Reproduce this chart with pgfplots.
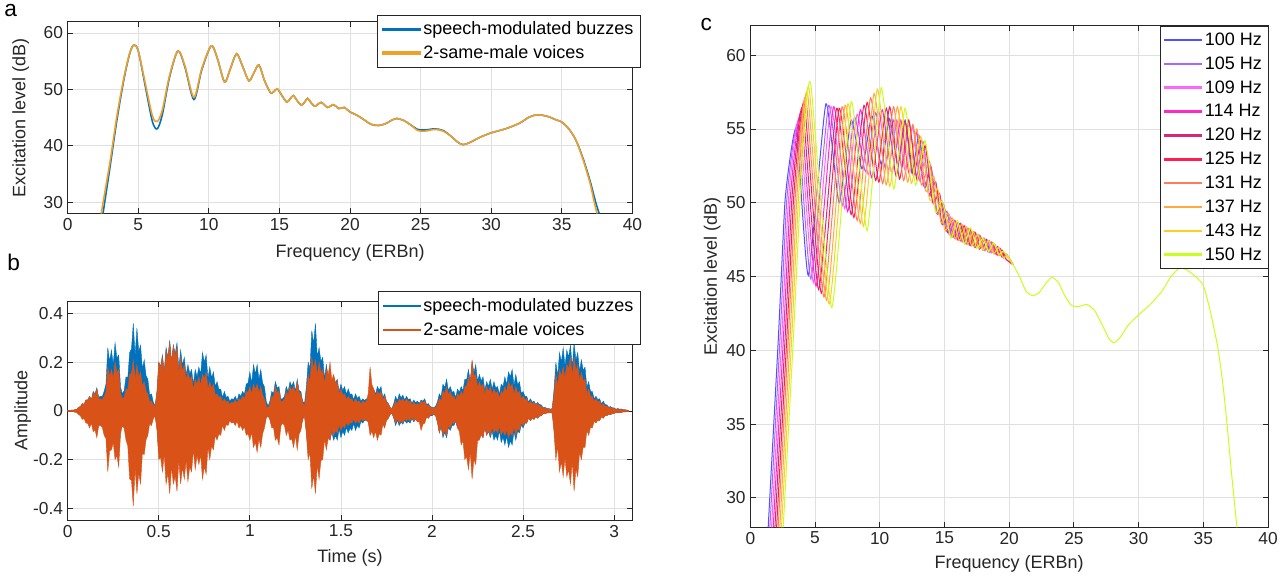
\documentclass[border=0pt]{standalone}
\usepackage{fontspec}
\setmainfont{Liberation Sans}
\usepackage{pgfplots}
\usepackage{pgfplotstable}
\pgfplotsset{compat=1.18}
\usepgfplotslibrary{fillbetween}

\definecolor{axc}{RGB}{38,38,38}
\definecolor{gridc}{RGB}{224,224,224}
\definecolor{mblue}{RGB}{0,114,189}
\definecolor{myel}{RGB}{240,160,40}
\definecolor{morange}{RGB}{217,83,25}
\definecolor{fqa}{RGB}{80,80,255}
\definecolor{fqb}{RGB}{170,100,255}
\definecolor{fqc}{RGB}{255,100,255}
\definecolor{fqd}{RGB}{255,40,200}
\definecolor{fqe}{RGB}{215,40,120}
\definecolor{fqf}{RGB}{255,30,80}
\definecolor{fqg}{RGB}{255,125,90}
\definecolor{fqh}{RGB}{255,170,60}
\definecolor{fqi}{RGB}{255,205,40}
\definecolor{fqj}{RGB}{200,255,30}

\pgfplotsset{
  mstyle/.style={
    scale only axis,
    axis line style={draw=axc, line width=0.6pt},
    tick style={draw=axc, line width=0.6pt},
    major tick length=4pt,
    tick align=inside,
    grid=major,
    major grid style={draw=gridc, line width=0.6pt},
    ticklabel style={font=\fontsize{13}{15}\selectfont, text=axc},
    label style={font=\fontsize{13.5}{16}\selectfont, text=axc},
    /pgf/number format/assume math mode=true,
    legend cell align=left,
    legend style={font=\fontsize{13.5}{16}\selectfont, draw=axc, line width=0.6pt,
      fill=white, inner xsep=3pt, inner ysep=3pt, row sep=2.5pt},
    legend image code/.code={\fill[#1] (0pt,-0.6pt) rectangle (28pt,0.6pt);},
  }
}

% panel b envelopes: time, buzz upper, voices upper, voices lower, buzz lower
\pgfplotstableread{
t bu ou ol bl
0.00 0.003 0.003 -0.003 -0.003
0.01 0.002 0.002 -0.002 -0.002
0.02 0.003 0.003 -0.003 -0.003
0.03 0.003 0.003 -0.003 -0.003
0.04 0.005 0.005 -0.005 -0.005
0.05 0.0065 0.0065 -0.0065 -0.0055
0.06 0.015 0.015 -0.015 -0.012
0.07 0.018 0.018 -0.02 -0.017
0.08 0.03 0.03 -0.035 -0.03
0.09 0.027 0.027 -0.031 -0.025
0.10 0.045 0.045 -0.05 -0.04
0.11 0.045 0.045 -0.051 -0.043
0.12 0.06 0.06 -0.07 -0.06
0.13 0.046 0.044 -0.05 -0.042
0.14 0.08 0.075 -0.085 -0.07
0.15 0.07 0.066 -0.078 -0.064
0.16 0.095 0.09 -0.11 -0.09
0.17 0.056 0.05 -0.061 -0.05
0.18 0.06 0.05 -0.06 -0.05
0.19 0.06 0.047 -0.068 -0.051
0.20 0.08 0.06 -0.10 -0.07
0.21 0.11 0.078 -0.114 -0.088
0.22 0.26 0.18 -0.25 -0.20
0.23 0.204 0.14 -0.164 -0.132
0.24 0.25 0.17 -0.16 -0.13
0.25 0.191 0.133 -0.13 -0.104
0.26 0.28 0.20 -0.20 -0.16
0.27 0.217 0.157 -0.183 -0.145
0.28 0.23 0.17 -0.23 -0.18
0.29 0.098 0.072 -0.094 -0.075
0.30 0.07 0.05 -0.06 -0.05
0.31 0.084 0.056 -0.072 -0.06
0.32 0.14 0.09 -0.12 -0.10
0.33 0.137 0.086 -0.144 -0.108
0.34 0.24 0.15 -0.28 -0.20
0.35 0.255 0.153 -0.285 -0.204
0.36 0.36 0.21 -0.39 -0.28
0.37 0.228 0.13 -0.237 -0.172
0.38 0.34 0.19 -0.34 -0.25
0.39 0.244 0.14 -0.256 -0.188
0.40 0.27 0.16 -0.30 -0.22
0.41 0.173 0.101 -0.173 -0.13
0.42 0.21 0.12 -0.18 -0.14
0.43 0.145 0.081 -0.119 -0.094
0.44 0.13 0.07 -0.10 -0.08
0.45 0.065 0.036 -0.052 -0.042
0.46 0.07 0.04 -0.06 -0.05
0.47 0.036 0.024 -0.032 -0.028
0.48 0.02 0.02 -0.02 -0.02
0.49 0.079 0.079 -0.079 -0.068
0.50 0.20 0.20 -0.20 -0.17
0.51 0.183 0.179 -0.191 -0.157
0.52 0.23 0.22 -0.25 -0.20
0.53 0.159 0.153 -0.179 -0.143
0.54 0.26 0.25 -0.30 -0.24
0.55 0.22 0.212 -0.256 -0.20
0.56 0.29 0.28 -0.34 -0.26
0.57 0.202 0.198 -0.23 -0.18
0.58 0.27 0.27 -0.30 -0.24
0.59 0.234 0.225 -0.268 -0.208
0.60 0.28 0.26 -0.33 -0.25
0.61 0.172 0.156 -0.205 -0.156
0.62 0.25 0.22 -0.30 -0.23
0.63 0.188 0.164 -0.232 -0.176
0.64 0.22 0.19 -0.28 -0.21
0.65 0.148 0.126 -0.205 -0.155
0.66 0.19 0.16 -0.29 -0.22
0.67 0.153 0.128 -0.23 -0.179
0.68 0.17 0.14 -0.25 -0.20
0.69 0.111 0.088 -0.159 -0.127
0.70 0.17 0.13 -0.24 -0.19
0.71 0.14 0.108 -0.184 -0.148
0.72 0.18 0.14 -0.22 -0.18
0.73 0.151 0.104 -0.18 -0.14
0.74 0.24 0.15 -0.28 -0.21
0.75 0.20 0.132 -0.23 -0.174
0.76 0.23 0.16 -0.26 -0.20
0.77 0.133 0.091 -0.15 -0.117
0.78 0.18 0.12 -0.20 -0.16
0.79 0.136 0.092 -0.144 -0.116
0.80 0.16 0.11 -0.16 -0.13
0.81 0.101 0.065 -0.101 -0.083
0.82 0.12 0.07 -0.12 -0.10
0.83 0.089 0.055 -0.094 -0.077
0.84 0.09 0.06 -0.10 -0.08
0.85 0.055 0.036 -0.059 -0.049
0.86 0.08 0.05 -0.08 -0.07
0.87 0.056 0.036 -0.056 -0.048
0.88 0.06 0.04 -0.06 -0.05
0.89 0.04 0.027 -0.04 -0.032
0.90 0.05 0.035 -0.05 -0.04
0.91 0.047 0.034 -0.047 -0.038
0.92 0.06 0.045 -0.06 -0.05
0.93 0.042 0.031 -0.042 -0.036
0.94 0.07 0.05 -0.07 -0.06
0.95 0.06 0.044 -0.06 -0.052
0.96 0.08 0.06 -0.08 -0.07
0.97 0.068 0.05 -0.065 -0.054
0.98 0.11 0.08 -0.10 -0.08
0.99 0.115 0.077 -0.094 -0.077
1.00 0.16 0.10 -0.12 -0.10
1.01 0.114 0.068 -0.088 -0.072
1.02 0.19 0.11 -0.15 -0.12
1.03 0.152 0.088 -0.128 -0.10
1.04 0.19 0.11 -0.17 -0.13
1.05 0.13 0.076 -0.115 -0.09
1.06 0.17 0.10 -0.15 -0.12
1.07 0.115 0.064 -0.094 -0.077
1.08 0.10 0.05 -0.07 -0.06
1.09 0.039 0.02 -0.029 -0.026
1.10 0.02 0.01 -0.02 -0.02
1.11 0.04 0.028 -0.036 -0.032
1.12 0.08 0.06 -0.07 -0.06
1.13 0.072 0.058 -0.068 -0.058
1.14 0.12 0.10 -0.12 -0.10
1.15 0.094 0.077 -0.11 -0.089
1.16 0.10 0.08 -0.14 -0.11
1.17 0.049 0.039 -0.062 -0.049
1.18 0.05 0.04 -0.05 -0.04
1.19 0.06 0.048 -0.06 -0.048
1.20 0.10 0.08 -0.10 -0.08
1.21 0.079 0.065 -0.079 -0.065
1.22 0.12 0.10 -0.12 -0.10
1.23 0.102 0.085 -0.115 -0.094
1.24 0.12 0.10 -0.15 -0.12
1.25 0.081 0.072 -0.101 -0.081
1.26 0.13 0.12 -0.16 -0.13
1.27 0.084 0.076 -0.096 -0.08
1.28 0.08 0.07 -0.08 -0.07
1.29 0.04 0.032 -0.036 -0.032
1.30 0.03 0.02 -0.02 -0.02
1.31 0.098 0.072 -0.094 -0.081
1.32 0.20 0.15 -0.20 -0.17
1.33 0.172 0.12 -0.169 -0.14
1.34 0.33 0.22 -0.32 -0.26
1.35 0.276 0.172 -0.264 -0.212
1.36 0.36 0.21 -0.34 -0.27
1.37 0.223 0.148 -0.223 -0.176
1.38 0.26 0.20 -0.28 -0.22
1.39 0.204 0.157 -0.204 -0.162
1.40 0.22 0.17 -0.20 -0.16
1.41 0.133 0.11 -0.117 -0.094
1.42 0.19 0.17 -0.16 -0.13
1.43 0.14 0.148 -0.112 -0.10
1.44 0.16 0.20 -0.12 -0.12
1.45 0.108 0.126 -0.079 -0.086
1.46 0.14 0.15 -0.10 -0.12
1.47 0.115 0.115 -0.081 -0.102
1.48 0.13 0.12 -0.09 -0.12
1.49 0.078 0.068 -0.055 -0.075
1.50 0.11 0.09 -0.08 -0.11
1.51 0.084 0.064 -0.06 -0.084
1.52 0.10 0.07 -0.07 -0.10
1.53 0.068 0.047 -0.047 -0.068
1.54 0.09 0.06 -0.06 -0.09
1.55 0.068 0.047 -0.047 -0.072
1.56 0.07 0.05 -0.05 -0.08
1.57 0.046 0.033 -0.033 -0.052
1.58 0.07 0.05 -0.05 -0.08
1.59 0.052 0.036 -0.04 -0.06
1.60 0.06 0.04 -0.05 -0.07
1.61 0.04 0.029 -0.032 -0.043
1.62 0.05 0.04 -0.04 -0.05
1.63 0.043 0.034 -0.034 -0.038
1.64 0.05 0.04 -0.04 -0.04
1.65 0.039 0.072 -0.046 -0.039
1.66 0.07 0.18 -0.10 -0.08
1.67 0.064 0.108 -0.084 -0.068
1.68 0.09 0.09 -0.11 -0.09
1.69 0.068 0.061 -0.083 -0.068
1.70 0.10 0.08 -0.12 -0.10
1.71 0.085 0.068 -0.094 -0.077
1.72 0.10 0.08 -0.10 -0.08
1.73 0.055 0.046 -0.055 -0.046
1.74 0.07 0.06 -0.07 -0.06
1.75 0.04 0.036 -0.04 -0.036
1.76 0.03 0.03 -0.03 -0.03
1.77 0.014 0.014 -0.014 -0.014
1.78 0.01 0.01 -0.01 -0.01
1.79 0.03 0.021 -0.026 -0.03
1.80 0.06 0.04 -0.05 -0.06
1.81 0.042 0.029 -0.033 -0.039
1.82 0.07 0.05 -0.05 -0.06
1.83 0.054 0.04 -0.04 -0.046
1.84 0.065 0.05 -0.05 -0.055
1.85 0.045 0.036 -0.032 -0.038
1.86 0.06 0.05 -0.04 -0.05
1.87 0.047 0.038 -0.034 -0.043
1.88 0.05 0.04 -0.04 -0.05
1.89 0.031 0.024 -0.026 -0.031
1.90 0.045 0.035 -0.04 -0.045
1.91 0.034 0.026 -0.034 -0.034
1.92 0.04 0.03 -0.045 -0.04
1.93 0.031 0.025 -0.045 -0.031
1.94 0.045 0.04 -0.08 -0.045
1.95 0.04 0.034 -0.055 -0.036
1.96 0.05 0.04 -0.05 -0.04
1.97 0.026 0.021 -0.026 -0.023
1.98 0.03 0.025 -0.03 -0.03
1.99 0.018 0.015 -0.018 -0.02
2.00 0.015 0.012 -0.015 -0.02
2.01 0.013 0.01 -0.013 -0.014
2.02 0.02 0.015 -0.02 -0.02
2.03 0.038 0.028 -0.047 -0.047
2.04 0.07 0.05 -0.09 -0.09
2.05 0.059 0.042 -0.062 -0.065
2.06 0.11 0.08 -0.10 -0.11
2.07 0.096 0.072 -0.08 -0.088
2.08 0.13 0.10 -0.10 -0.11
2.09 0.083 0.065 -0.061 -0.068
2.10 0.10 0.08 -0.07 -0.08
2.11 0.077 0.06 -0.051 -0.06
2.12 0.08 0.06 -0.05 -0.06
2.13 0.055 0.042 -0.039 -0.042
2.14 0.09 0.07 -0.07 -0.07
2.15 0.076 0.06 -0.084 -0.068
2.16 0.10 0.08 -0.14 -0.10
2.17 0.083 0.065 -0.122 -0.086
2.18 0.13 0.10 -0.20 -0.14
2.19 0.128 0.102 -0.187 -0.132
2.20 0.17 0.14 -0.24 -0.17
2.21 0.12 0.114 -0.169 -0.117
2.22 0.20 0.21 -0.28 -0.19
2.23 0.156 0.144 -0.20 -0.14
2.24 0.19 0.15 -0.22 -0.16
2.25 0.122 0.097 -0.122 -0.097
2.26 0.15 0.12 -0.12 -0.11
2.27 0.123 0.098 -0.098 -0.094
2.28 0.14 0.11 -0.11 -0.11
2.29 0.085 0.068 -0.068 -0.068
2.30 0.12 0.10 -0.10 -0.10
2.31 0.10 0.08 -0.08 -0.084
2.32 0.13 0.10 -0.10 -0.11
2.33 0.09 0.068 -0.068 -0.083
2.34 0.12 0.09 -0.09 -0.12
2.35 0.094 0.072 -0.077 -0.102
2.36 0.10 0.08 -0.09 -0.12
2.37 0.068 0.052 -0.062 -0.081
2.38 0.11 0.08 -0.10 -0.13
2.39 0.10 0.072 -0.08 -0.108
2.40 0.14 0.10 -0.10 -0.14
2.41 0.108 0.079 -0.076 -0.104
2.42 0.16 0.12 -0.11 -0.15
2.43 0.14 0.098 -0.089 -0.123
2.44 0.17 0.11 -0.10 -0.14
2.45 0.104 0.068 -0.065 -0.085
2.46 0.15 0.10 -0.10 -0.12
2.47 0.108 0.072 -0.072 -0.084
2.48 0.12 0.08 -0.08 -0.09
2.49 0.072 0.05 -0.05 -0.058
2.50 0.08 0.06 -0.06 -0.07
2.51 0.06 0.047 -0.047 -0.051
2.52 0.06 0.05 -0.05 -0.05
2.53 0.036 0.029 -0.029 -0.029
2.54 0.05 0.04 -0.04 -0.04
2.55 0.036 0.03 -0.03 -0.03
2.56 0.04 0.035 -0.035 -0.035
2.57 0.027 0.023 -0.023 -0.023
2.58 0.035 0.03 -0.03 -0.03
2.59 0.026 0.021 -0.021 -0.021
2.60 0.025 0.02 -0.02 -0.02
2.61 0.013 0.01 -0.01 -0.01
2.62 0.015 0.012 -0.012 -0.012
2.63 0.01 0.008 -0.008 -0.008
2.64 0.01 0.008 -0.008 -0.008
2.65 0.007 0.006 -0.006 -0.006
2.66 0.01 0.01 -0.01 -0.01
2.67 0.089 0.068 -0.089 -0.072
2.68 0.20 0.15 -0.20 -0.16
2.69 0.143 0.104 -0.146 -0.117
2.70 0.24 0.17 -0.25 -0.20
2.71 0.20 0.14 -0.208 -0.164
2.72 0.26 0.18 -0.27 -0.21
2.73 0.184 0.133 -0.194 -0.151
2.74 0.25 0.19 -0.27 -0.21
2.75 0.221 0.174 -0.242 -0.187
2.76 0.27 0.22 -0.30 -0.23
2.77 0.179 0.143 -0.205 -0.156
2.78 0.28 0.22 -0.33 -0.25
2.79 0.208 0.164 -0.24 -0.184
2.80 0.24 0.19 -0.27 -0.21
2.81 0.162 0.126 -0.169 -0.133
2.82 0.21 0.16 -0.20 -0.16
2.83 0.166 0.123 -0.149 -0.119
2.84 0.18 0.13 -0.15 -0.12
2.85 0.098 0.072 -0.081 -0.065
2.86 0.12 0.09 -0.10 -0.08
2.87 0.08 0.06 -0.068 -0.056
2.88 0.08 0.06 -0.07 -0.06
2.89 0.05 0.04 -0.043 -0.038
2.90 0.06 0.05 -0.05 -0.045
2.91 0.047 0.038 -0.038 -0.036
2.92 0.05 0.04 -0.04 -0.04
2.93 0.029 0.023 -0.023 -0.023
2.94 0.04 0.03 -0.03 -0.03
2.95 0.026 0.02 -0.02 -0.02
2.96 0.025 0.02 -0.02 -0.02
2.97 0.015 0.013 -0.013 -0.013
2.98 0.018 0.015 -0.015 -0.015
2.99 0.013 0.011 -0.011 -0.011
3.00 0.012 0.01 -0.01 -0.01
3.01 0.007 0.006 -0.006 -0.006
3.02 0.01 0.008 -0.008 -0.008
3.03 0.007 0.006 -0.006 -0.006
3.04 0.008 0.006 -0.006 -0.006
3.05 0.005 0.004 -0.004 -0.004
3.06 0.005 0.004 -0.004 -0.004
3.07 0.003 0.003 -0.003 -0.003
3.08 0.002 0.002 -0.002 -0.002
}\wave

\begin{document}
\begin{tikzpicture}
\path (0,0) rectangle (962.25pt,431.25pt);

% ---------- panel a ----------
\begin{axis}[mstyle, at={(50.25pt,271.5pt)}, anchor=south west,
  width=423.75pt, height=144pt,
  xmin=0, xmax=40, ymin=28, ymax=62,
  xtick={0,5,...,40}, ytick={30,40,50,60},
  xlabel={Frequency (ERBn)}, ylabel={Excitation level (dB)},
  xlabel style={at={(axis description cs:0.5,-0.203)}, anchor=center},
  ylabel style={at={(axis description cs:-0.083,0.5)}, anchor=center},
  legend style={at={(1.0142,1.036)}, anchor=north east}]
\addplot[mblue, line width=1.2pt, smooth] coordinates {
(2.5,28) (3.0,36.3) (3.5,44.8) (4.0,52.0) (4.4,56.4) (4.68,57.86) (5.0,56.8) (5.5,50.5)
(6.0,44.3) (6.34,43.0) (6.7,45.5) (7.2,52) (7.8,56.8) (8.3,54) (8.94,48.2) (9.5,53.5)
(10.17,57.7) (10.6,55.5) (11.11,51.3) (11.5,53.5) (11.96,56.3) (12.4,54) (12.84,51.5)
(13.2,53) (13.55,54.3) (13.95,51.5) (14.37,49.4) (14.6,49.6) (14.85,50.1) (15.15,49)
(15.51,47.75) (15.75,48.3) (15.98,48.9) (16.25,48) (16.55,47.2) (16.8,47.8) (17.0,48.4)
(17.25,47.6) (17.5,47.0) (17.7,47.3) (17.95,47.7) (18.2,47.2) (18.4,46.8) (18.6,47.0)
(18.8,47.3) (19.0,47.0) (19.2,46.6) (19.4,46.7) (19.6,46.8) (20.0,46.0) (20.5,45.4)
(21.0,44.6) (21.5,43.8) (22.0,43.6) (22.5,43.9) (23.0,44.6) (23.3,44.85) (23.8,44.5)
(24.3,43.7) (24.8,42.9) (25.3,42.8) (26.0,43.0) (26.6,42.7) (27.2,41.6) (27.6,40.7)
(28.0,40.2) (28.5,40.6) (29.2,41.5) (30.0,42.3) (31.0,43.0) (32.0,44.0) (32.7,45.1)
(33.3,45.5) (34.0,45.2) (34.6,44.6) (35.0,44.2) (35.5,43.0) (36.0,41.0) (36.5,37.8)
(37.0,33.8) (37.4,30.0) (37.65,28)};
\addplot[myel, line width=1.2pt, smooth] coordinates {
(2.37,28) (3.0,37.2) (3.5,45.5) (4.0,52.3) (4.4,56.5) (4.68,57.86) (5.0,56.8) (5.5,51.0)
(6.0,45.3) (6.34,44.3) (6.7,46.3) (7.2,52.3) (7.8,56.8) (8.3,54.2) (8.94,48.6) (9.5,53.7)
(10.17,57.7) (10.6,55.5) (11.11,51.3) (11.5,53.5) (11.96,56.3) (12.4,54) (12.84,51.5)
(13.2,53) (13.55,54.3) (13.95,51.5) (14.37,49.4) (14.6,49.6) (14.85,50.1) (15.15,49)
(15.51,47.75) (15.75,48.3) (15.98,48.9) (16.25,48) (16.55,47.2) (16.8,47.8) (17.0,48.4)
(17.25,47.6) (17.5,47.0) (17.7,47.3) (17.95,47.7) (18.2,47.2) (18.4,46.8) (18.6,47.0)
(18.8,47.3) (19.0,47.0) (19.2,46.6) (19.4,46.7) (19.6,46.8) (20.0,46.0) (20.5,45.4)
(21.0,44.6) (21.5,43.8) (22.0,43.6) (22.5,43.9) (23.0,44.6) (23.3,44.85) (23.8,44.5)
(24.3,43.7) (24.8,42.7) (25.3,42.6) (26.0,42.9) (26.6,42.6) (27.2,41.6) (27.6,40.7)
(28.0,40.2) (28.5,40.6) (29.2,41.5) (30.0,42.3) (31.0,43.0) (32.0,44.0) (32.7,45.1)
(33.3,45.5) (34.0,45.2) (34.6,44.6) (35.0,44.2) (35.5,43.0) (36.0,41.0) (36.5,37.6)
(37.0,33.4) (37.3,30.0) (37.5,28)};
\legend{speech-modulated buzzes, 2-same-male voices}
\end{axis}

% ---------- panel b ----------
\begin{axis}[mstyle, at={(50.25pt,41.25pt)}, anchor=south west,
  width=423.75pt, height=164.25pt,
  xmin=0, xmax=3.1, ymin=-0.45, ymax=0.45,
  xtick={0,0.5,1,1.5,2,2.5,3},
  ytick={-0.4,-0.2,0,0.2,0.4}, yticklabels={-0.4,-0.2,0,0.2,0.4},
  xlabel={Time (s)}, ylabel={Amplitude},
  xlabel style={at={(axis description cs:0.5,-0.1735)}, anchor=center},
  ylabel style={at={(axis description cs:-0.0796,0.5)}, anchor=center},
  legend style={at={(1.0142,1.0457)}, anchor=north east}]
\addplot[draw=none, name path=BU, forget plot] table[x=t, y=bu] {\wave};
\addplot[draw=none, name path=BL, forget plot] table[x=t, y=bl] {\wave};
\addplot[fill=mblue, draw=mblue, line width=0.3pt, forget plot] fill between[of=BU and BL];
\addplot[draw=none, name path=OU, forget plot] table[x=t, y=ou] {\wave};
\addplot[draw=none, name path=OL, forget plot] table[x=t, y=ol] {\wave};
\addplot[fill=morange, draw=morange, line width=0.3pt, forget plot] fill between[of=OU and OL];
\addlegendimage{mblue}
\addlegendentry{speech-modulated buzzes}
\addlegendimage{morange}
\addlegendentry{2-same-male voices}
\end{axis}

% ---------- panel c ----------
\begin{axis}[mstyle, at={(562.5pt,36pt)}, anchor=south west,
  width=388.5pt, height=376.5pt,
  xmin=0, xmax=40, ymin=28, ymax=62,
  xtick={0,5,...,40}, ytick={30,35,...,60},
  xlabel={Frequency (ERBn)}, ylabel={Excitation level (dB)},
  xlabel style={at={(axis description cs:0.5,-0.072)}, anchor=center},
  ylabel style={at={(axis description cs:-0.0734,0.5)}, anchor=center},
  legend style={at={(1.002,1.0)}, anchor=north east, row sep=3pt},
  every axis plot/.append style={line width=0.75pt, smooth, tension=0.3}]
\addplot[fqa] coordinates {
(1.38,28) (2.16,40.7) (2.68,50.1) (3.20,53.8) (3.60,54.8) (4.48,45.07) (5.84,56.7) (6.86,50.0)
(7.79,55.6) (8.63,52.3) (9.39,55.9) (10.11,52.6) (10.77,55.7) (11.38,52.6) (11.96,55.6)
(12.49,52.0) (13.02,54.57) (13.49,51.0) (13.97,52.4) (14.40,49.3) (14.83,50.1) (15.23,47.97)
(15.62,48.93) (15.99,47.5) (16.35,48.5) (16.69,47.22) (17.02,48.19) (17.34,47.0) (17.65,47.81)
(17.95,46.82) (18.24,47.5) (18.52,46.64) (18.79,47.23) (19.06,46.48) (19.32,46.88)
(19.57,46.27) (19.81,46.47) (20.3,45.8)};
\addplot[fqb] coordinates {
(1.51,28) (2.29,40.7) (2.81,50.1) (3.32,54.07) (3.72,55.14) (4.68,44.83) (6.05,56.6) (7.10,49.8)
(8.05,55.8) (8.90,52.1) (9.69,56.1) (10.41,52.4) (11.08,55.6) (11.71,52.4) (12.29,55.37)
(12.83,51.74) (13.36,54.1) (13.84,50.46) (14.32,51.4) (14.76,48.63) (15.19,49.43) (15.59,47.66)
(15.99,48.71) (16.36,47.36) (16.72,48.34) (17.06,47.08) (17.40,47.96) (17.72,46.88)
(18.04,47.58) (18.34,46.7) (18.63,47.32) (18.91,46.53) (19.19,46.97) (19.46,46.32)
(19.72,46.55) (20.3,45.8)};
\addplot[fqc] coordinates {
(1.64,28) (2.42,40.7) (2.94,50.1) (3.44,54.34) (3.84,55.49) (4.88,44.59) (6.22,56.5) (7.29,49.6)
(8.25,56.0) (9.12,51.9) (9.91,56.2) (10.65,52.2) (11.32,55.6) (11.96,52.2) (12.55,55.14)
(13.09,51.49) (13.63,53.48) (14.12,49.94) (14.60,50.66) (15.04,48.16) (15.48,49.03) (15.88,47.55)
(16.28,48.56) (16.65,47.24) (17.02,48.19) (17.36,46.99) (17.70,47.78) (18.02,46.79)
(18.34,47.46) (18.64,46.61) (18.93,47.14) (19.21,46.42) (19.49,46.76) (19.75,46.18) (20.3,45.8)};
\addplot[fqd] coordinates {
(1.77,28) (2.55,40.7) (3.07,50.1) (3.57,54.61) (3.96,55.83) (5.08,44.35) (6.43,56.5) (7.52,49.4)
(8.50,56.3) (9.38,51.7) (10.19,56.3) (10.93,52.0) (11.62,55.6) (12.26,52.0) (12.86,54.77)
(13.41,51.11) (13.95,52.46) (14.44,49.23) (14.93,49.87) (15.37,47.83) (15.81,48.81) (16.22,47.41)
(16.62,48.39) (17.00,47.1) (17.37,47.98) (17.72,46.88) (18.06,47.58) (18.38,46.69) (18.70,47.28)
(19.00,46.5) (19.30,46.89) (19.58,46.26) (19.86,46.43) (20.3,45.8)};
\addplot[fqe] coordinates {
(1.90,28) (2.68,40.7) (3.20,50.1) (3.69,54.88) (4.08,56.18) (5.28,44.11) (6.67,56.4) (7.79,49.2)
(8.78,56.6) (9.69,51.5) (10.51,56.4) (11.26,51.8) (11.96,55.5) (12.61,51.8) (13.22,54.29)
(13.77,50.57) (14.32,51.40) (14.82,48.52) (15.31,49.27) (15.76,47.6) (16.21,48.61) (16.62,47.25)
(17.02,48.19) (17.40,46.98) (17.77,47.74) (18.12,46.76) (18.47,47.41) (18.79,46.56) (19.11,47.02)
(19.42,46.33) (19.72,46.55) (20.3,45.8)};
\addplot[fqf] coordinates {
(2.03,28) (2.81,40.7) (3.33,50.1) (3.81,55.15) (4.21,56.52) (5.49,43.87) (6.86,56.4) (8.00,49.0)
(9.02,56.8) (9.93,51.4) (10.77,56.5) (11.53,51.6) (12.24,55.6) (12.89,51.5) (13.51,53.87)
(14.07,50.05) (14.62,50.61) (15.12,48.08) (15.62,48.93) (16.07,47.47) (16.52,48.44) (16.93,47.13)
(17.34,48.0) (17.72,46.88) (18.10,47.56) (18.45,46.67) (18.79,47.23) (19.12,46.45) (19.44,46.79)
(19.75,46.18) (20.3,45.8)};
\addplot[fqg] coordinates {
(2.15,28) (2.93,40.7) (3.45,50.1) (3.93,55.42) (4.33,56.86) (5.69,43.62) (7.09,56.5) (8.26,48.8)
(9.29,57.1) (10.22,51.3) (11.07,56.5) (11.84,51.5) (12.56,55.3) (13.22,51.2) (13.84,52.81)
(14.41,49.3) (14.97,49.77) (15.48,47.72) (15.98,48.71) (16.43,47.33) (16.88,48.26) (17.30,47.01)
(17.71,47.77) (18.09,46.77) (18.47,47.41) (18.82,46.55) (19.17,46.98) (19.50,46.3) (19.83,46.46)
(20.3,45.8)};
\addplot[fqh] coordinates {
(2.28,28) (3.06,40.7) (3.58,50.1) (4.05,55.69) (4.45,57.21) (5.89,43.38) (7.32,56.6) (8.50,48.6)
(9.56,57.4) (10.50,51.2) (11.36,56.5) (12.15,51.4) (12.87,55.0) (13.54,50.8) (14.17,51.82)
(14.74,48.67) (15.31,49.27) (15.82,47.57) (16.32,48.54) (16.78,47.19) (17.24,48.06) (17.66,46.9)
(18.07,47.57) (18.45,46.67) (18.83,47.22) (19.19,46.42) (19.54,46.71) (20.3,45.8)};
\addplot[fqi] coordinates {
(2.41,28) (3.19,40.7) (3.71,50.1) (4.18,55.96) (4.57,57.55) (6.09,43.14) (7.54,56.7) (8.74,48.4)
(9.81,57.7) (10.77,51.1) (11.64,56.5) (12.44,51.3) (13.17,54.5) (13.85,50.2) (14.48,50.96)
(15.06,48.14) (15.63,48.92) (16.14,47.44) (16.65,48.38) (17.11,47.07) (17.57,47.86) (17.99,46.8)
(18.41,47.44) (18.80,46.56) (19.18,46.97) (19.54,46.28) (19.89,46.40) (20.3,45.8)};
\addplot[fqj] coordinates {
(2.54,28) (3.32,40.7) (3.84,50.1) (4.30,56.23) (4.69,57.9) (6.29,42.9) (7.79,56.85) (9.02,48.1)
(10.11,57.8) (11.08,50.95) (11.96,56.4) (12.77,51.2) (13.51,54.2) (14.3,49.4) (14.83,50.1)
(15.5,47.6) (15.99,48.8) (16.55,47.2) (17.02,48.3) (17.5,46.9) (17.95,47.6) (18.4,46.7)
(18.79,47.3) (19.2,46.5) (19.57,46.7) (20.3,45.8) (20.8,45.0) (21.3,44.0) (21.8,43.7)
(22.3,43.9) (22.8,44.5) (23.3,44.95) (23.8,44.6) (24.3,43.7) (24.8,43.05) (25.3,42.95)
(26.0,43.1) (26.6,42.7) (27.2,41.7) (27.7,40.8) (28.1,40.5) (28.6,40.9) (29.2,41.7) (30.0,42.4)
(30.9,43.1) (31.8,44.0) (32.5,45.0) (33.2,45.6) (33.8,45.4) (34.4,45.0) (35.0,44.4) (35.5,42.8)
(36.1,40.3) (36.5,37.8) (36.8,35.3) (37.2,31.5) (37.6,28.0)};
\legend{100 Hz, 105 Hz, 109 Hz, 114 Hz, 120 Hz, 125 Hz, 131 Hz, 137 Hz, 143 Hz, 150 Hz}
\end{axis}

\node[font=\fontsize{17}{20}\selectfont] at (7.5pt,423.75pt) {a};
\node[font=\fontsize{17}{20}\selectfont] at (9.75pt,234.75pt) {b};
\node[font=\fontsize{17}{20}\selectfont] at (529.5pt,413.25pt) {c};
\end{tikzpicture}
\end{document}
